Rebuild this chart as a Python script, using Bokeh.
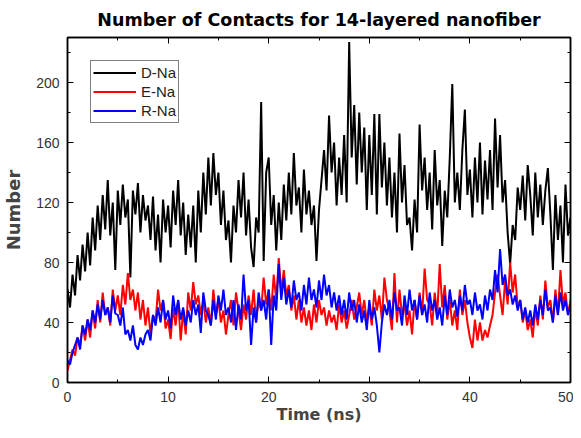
import numpy as np
from bokeh.plotting import figure
from bokeh.models import LinearAxis, SingleIntervalTicker, Range1d, ColumnDataSource, CustomJSTickFormatter
from bokeh.embed import file_html
from bokeh.resources import INLINE

# time step 0.25 ns, 0..50 ns
time_ns = np.arange(0, 50.0001, 0.25)

d_na = [
    62, 50, 72, 58,  85, 68, 92, 74,  100, 78, 110, 88,  118, 95, 125, 102,
    135, 98, 120, 75,  128, 105, 132, 110,  122, 70, 128, 112,  133, 100, 125, 108,
    118, 95, 124, 88,  112, 80, 122, 100,
    118, 90, 128, 105,  135, 98, 120, 85,  112, 90, 118, 80,  128, 100, 140, 112,
    150, 118, 153, 125,  140, 105, 128, 95,  108, 80, 118, 100,  135, 110, 140, 98,
    122, 90, 77, 110,  100, 187, 81, 140,
    150, 105, 125, 88,  120, 95, 132, 108,  140, 112, 153, 118,  130, 100, 142, 112,
    128, 105, 118, 81,  115, 135, 155, 128,  178, 140, 160, 118,  150, 125, 165, 120,
    227, 150, 185, 132,  180, 140, 170, 115,
    165, 125, 179, 112,  179, 130, 160, 118,  150, 110, 140, 100,  166, 120, 145, 105,
    110, 88, 122, 100,  172, 128, 150, 115,  140, 102, 155, 118,  135, 91, 128, 110,
    150, 199, 120, 140,  115, 155, 182, 125,
    142, 110, 150, 120,  160, 112, 148, 122,  155, 115, 176, 130,  165, 120, 135, 100,
    79, 105, 95, 130,  115, 138, 108, 145,  125, 98, 140, 110,  132, 105, 128, 143,
    112, 75, 125, 95,  118, 80, 132, 98,
    110,
]

e_na = [
    8, 15, 22, 18,  30, 25, 38, 28,  42, 30, 48, 36,  55, 40, 60, 45,
    50, 38, 62, 48,  58, 45, 65, 52,  73, 55, 62, 48,  60, 42, 55, 38,
    50, 32, 45, 40,  62, 48, 55, 36,
    42, 29, 50, 38,  55, 28, 48, 32,  60, 48, 67, 52,  58, 45, 55, 40,
    50, 38, 62, 45,  55, 40, 48, 32,  45, 55, 38, 60,  48, 35, 52, 42,
    58, 45, 62, 40,  55, 48, 70, 52,
    62, 48, 72, 55,  83, 60, 75, 58,  65, 48, 58, 42,  55, 40, 50, 38,
    48, 35, 52, 40,  55, 45, 50, 38,  48, 40, 45, 35,  52, 40, 48, 36,
    45, 55, 42, 50,  60, 45, 55, 40,
    50, 38, 62, 48,  58, 42, 70, 55,  48, 35, 73, 40,  62, 45, 52, 38,
    48, 32, 55, 42,  60, 45, 76, 55,  52, 38, 60, 45,  79, 50, 65, 42,
    55, 38, 48, 35,  62, 45, 55, 40,
    30, 23, 42, 28,  40, 28, 35, 30,  38, 45, 60, 72,  58, 45, 68, 52,
    80, 60, 72, 50,  55, 40, 48, 35,  42, 30, 50, 38,  58, 42, 68, 50,
    55, 40, 62, 45,  75, 52, 60, 45,
    55,
]

r_na = [
    15, 12, 20, 25,  30, 22, 38, 32,  42, 35, 48, 40,  52, 42, 55, 45,
    50, 40, 58, 46,  45, 38, 50, 32,  35, 28, 38, 25,  22, 30, 25, 32,
    35, 28, 45, 38,  50, 40, 55, 42,
    48, 36, 58, 45,  55, 42, 50, 38,  48, 40, 55, 45,  52, 33, 60, 48,
    45, 38, 55, 42,  58, 48, 62, 45,  50, 40, 55, 35,  52, 42, 72, 48,
    55, 25, 50, 40,  60, 48, 55, 42,
    62, 25, 58, 48,  79, 55, 70, 52,  62, 50, 68, 55,  60, 48, 65, 52,
    70, 55, 62, 50,  68, 55, 72, 58,  65, 50, 60, 48,  58, 45, 55, 42,
    60, 48, 55, 40,  52, 40, 48, 35,
    55, 42, 50, 38,  20, 40, 52, 45,  55, 42, 60, 48,  50, 38, 58, 45,
    62, 48, 55, 42,  58, 45, 52, 40,  60, 48, 55, 42,  50, 38, 58, 45,
    62, 50, 55, 44,  58, 48, 65, 52,
    55, 45, 60, 48,  52, 42, 58, 48,  62, 55, 75, 60,  89, 65, 72, 58,
    62, 52, 58, 48,  55, 42, 50, 40,  48, 38, 52, 42,  55, 45, 62, 48,
    50, 40, 58, 45,  60, 48, 55, 45,
    52,
]

series_names = ["D-Na", "E-Na", "R-Na"]
series_colors = ["#000000", "#ff0000", "#0000ff"]

source = ColumnDataSource(data=dict(t=time_ns, d=d_na, e=e_na, r=r_na))

p = figure(frame_width=503, frame_height=345, output_backend="svg", toolbar_location=None,
           x_range=Range1d(0, 50), y_range=Range1d(0, 230),
           min_border_left=56, min_border_right=3, min_border_top=29, min_border_bottom=40)

p.title.text = "Number of Contacts for 14-layered nanofiber"
p.title.align = "center"
p.title.text_font = "DejaVu Sans"
p.title.text_font_style = "bold"
p.title.text_font_size = "17.5px"
p.title.text_color = "#000000"
p.title.standoff = 15

p.grid.visible = False
p.outline_line_color = "#000000"
p.outline_line_width = 1.5

for col, name, color in zip(["d", "e", "r"], series_names, series_colors):
    p.line("t", col, source=source, line_color=color, line_width=2, legend_label=name)

def style_axis(ax, labels=True):
    ax.axis_line_color = "#000000"
    ax.axis_line_width = 1.5
    ax.major_tick_in = 6
    ax.major_tick_out = 0
    ax.minor_tick_in = 3
    ax.minor_tick_out = 0
    ax.major_tick_line_color = "#000000"
    ax.minor_tick_line_color = "#000000"
    ax.major_label_text_font = "Liberation Sans"
    ax.major_label_text_font_size = "14px"
    ax.major_label_text_color = "#333333"
    ax.major_label_standoff = 6
    if not labels:
        ax.formatter = CustomJSTickFormatter(code="return ''")
        ax.major_label_standoff = 0

xaxis = p.xaxis[0]
xaxis.ticker = SingleIntervalTicker(interval=10, num_minor_ticks=2)
style_axis(xaxis)
xaxis.major_label_standoff = 9
xaxis.axis_label = "Time (ns)"
xaxis.axis_label_text_font = "DejaVu Sans"
xaxis.axis_label_text_font_style = "bold"
xaxis.axis_label_text_font_size = "16px"
xaxis.axis_label_standoff = 0

yaxis = p.yaxis[0]
yaxis.ticker = SingleIntervalTicker(interval=40, num_minor_ticks=2)
style_axis(yaxis)
yaxis.major_label_standoff = 8
yaxis.axis_label = "Number"
yaxis.axis_label_text_font = "DejaVu Sans"
yaxis.axis_label_text_font_style = "bold"
yaxis.axis_label_text_font_size = "18px"
yaxis.axis_label_standoff = 9

top_axis = LinearAxis(ticker=SingleIntervalTicker(interval=10, num_minor_ticks=2))
style_axis(top_axis, labels=False)
p.add_layout(top_axis, "above")

right_axis = LinearAxis(ticker=SingleIntervalTicker(interval=40, num_minor_ticks=2))
style_axis(right_axis, labels=False)
p.add_layout(right_axis, "right")

leg = p.legend[0]
leg.location = "top_left"
leg.margin = 23
leg.padding = 2
leg.spacing = 0
leg.glyph_width = 43
leg.glyph_height = 19
leg.label_height = 19
leg.label_standoff = 5
leg.label_text_font = "Liberation Sans"
leg.label_text_font_size = "15px"
leg.label_text_color = "#222222"
leg.border_line_color = "#000000"
leg.border_line_width = 1.5
leg.background_fill_alpha = 1.0

open("out.html", "w").write(file_html(p, INLINE))
